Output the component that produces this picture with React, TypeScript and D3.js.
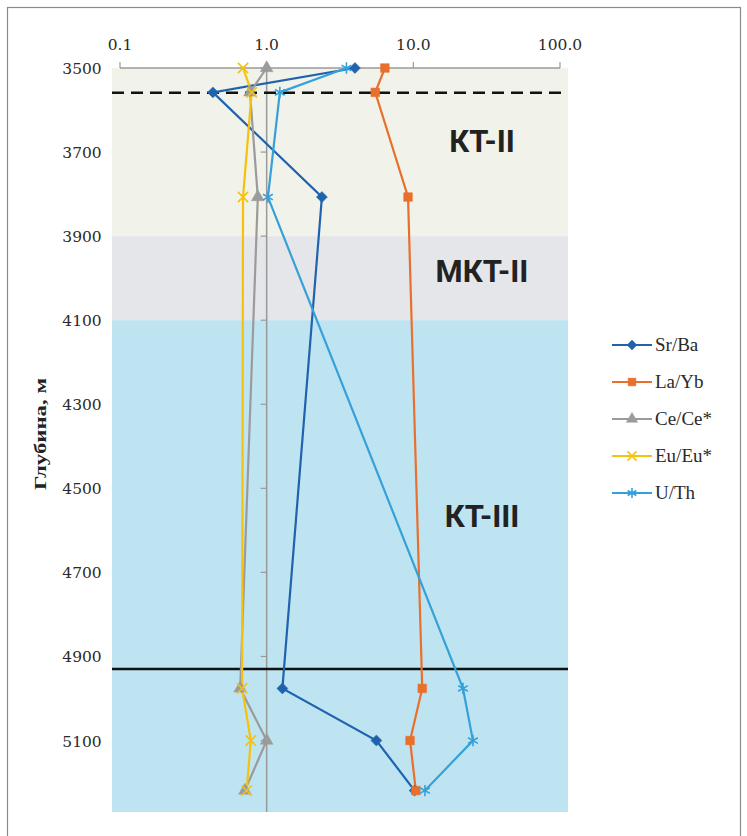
import React, { useRef, useEffect } from 'react';
import * as d3 from 'd3';

const depths = [3500, 3558, 3807, 4976, 5100, 5219];

const seriesNames = ['Sr/Ba', 'La/Yb', 'Ce/Ce*', 'Eu/Eu*', 'U/Th'];
const srBa = [4.0, 0.43, 2.38, 1.28, 5.6, 10.2];
const laYb = [6.4, 5.5, 9.2, 11.5, 9.5, 10.4];
const ceCe = [1.0, 0.77, 0.87, 0.66, 1.0, 0.71];
const euEu = [0.69, 0.79, 0.69, 0.68, 0.78, 0.73];
const uTh = [3.5, 1.23, 1.02, 21.8, 25.5, 12.0];

const xTicks = [0.1, 1, 10, 100];
const yTicks = [3500, 3700, 3900, 4100, 4300, 4500, 4700, 4900, 5100];

const zones = [
    { name: 'КТ-II', from: 3500, to: 3900, color: '#f1f2ea', labelDepth: 3700 },
    { name: 'МКТ-II', from: 3900, to: 4100, color: '#e5e6ea', labelDepth: 4010 },
    { name: 'КТ-III', from: 4100, to: 5270, color: '#bee4f2', labelDepth: 4592 },
];
const dashedDepth = 3559;
const solidDepth = 4930;

const colors = ['#1f63ae', '#e8702c', '#9b9b9b', '#f4c20d', '#35a1d8'];

const App: React.FC = () => {
    const svgRef = useRef<SVGSVGElement | null>(null);
    const width = 747;
    const height = 836;

    useEffect(() => {
        const svg = d3.select(svgRef.current);
        svg.selectAll('*').remove();

        const x = d3.scaleLog().domain([0.1, 100]).range([120, 560]);
        const y = d3.scaleLinear().domain([3500, 5270]).range([68, 812]);
        const left = x.range()[0] - 8;
        const right = x.range()[1] + 8;

        // frame
        svg.append('rect')
            .attr('x', 7.5).attr('y', 7.5)
            .attr('width', 733).attr('height', 840)
            .attr('fill', 'white')
            .attr('stroke', '#8a8a8a')
            .attr('stroke-width', 1.2);

        // zone bands
        zones.forEach(z => {
            svg.append('rect')
                .attr('x', left)
                .attr('y', y(z.from))
                .attr('width', right - left)
                .attr('height', y(z.to) - y(z.from))
                .attr('fill', z.color);
        });

        // top axis
        const top = svg.append('g').attr('transform', `translate(0,${y(3500)})`);
        top.append('line')
            .attr('x1', x(0.1)).attr('x2', x(100))
            .attr('stroke', '#9a9a9a').attr('stroke-width', 1.5);
        xTicks.forEach(t => {
            top.append('line')
                .attr('x1', x(t)).attr('x2', x(t))
                .attr('y1', 0).attr('y2', -6)
                .attr('stroke', '#9a9a9a').attr('stroke-width', 1.2);
            top.append('text')
                .attr('x', x(t)).attr('y', -18)
                .attr('text-anchor', 'middle')
                .style('font-family', 'DejaVu Serif')
                .style('font-size', '15.5px')
                .style('fill', '#2a2a2a')
                .text(t.toFixed(1));
        });

        // vertical axis at 1.0
        svg.append('line')
            .attr('x1', x(1)).attr('x2', x(1))
            .attr('y1', y(3500)).attr('y2', y(5270))
            .attr('stroke', '#999').attr('stroke-width', 1.5);
        yTicks.forEach(t => {
            svg.append('line')
                .attr('x1', x(1) - 6).attr('x2', x(1))
                .attr('y1', y(t)).attr('y2', y(t))
                .attr('stroke', '#999').attr('stroke-width', 1.2);
            svg.append('text')
                .attr('x', 82).attr('y', y(t) + 6)
                .attr('text-anchor', 'middle')
                .style('font-family', 'DejaVu Serif')
                .style('font-size', '15.5px')
                .style('fill', '#2a2a2a')
                .text(t);
        });

        svg.append('text')
            .attr('transform', 'translate(46,434) rotate(-90)')
            .attr('text-anchor', 'middle')
            .attr('textLength', 112)
            .attr('lengthAdjust', 'spacingAndGlyphs')
            .style('font-family', 'Liberation Serif')
            .style('font-weight', 'bold')
            .style('font-size', '17px')
            .style('fill', '#222')
            .text('Глубина, м');

        // zone labels
        zones.forEach(z => {
            svg.append('text')
                .attr('x', 482)
                .attr('y', y(z.labelDepth))
                .attr('text-anchor', 'middle')
                .style('font-family', 'Roboto')
                .style('font-weight', 'bold')
                .style('font-size', '31px')
                .style('fill', '#222')
                .text(z.name);
        });

        // boundary lines
        svg.append('line')
            .attr('x1', left).attr('x2', right)
            .attr('y1', y(dashedDepth)).attr('y2', y(dashedDepth))
            .attr('stroke', '#111').attr('stroke-width', 2.5)
            .attr('stroke-dasharray', '12,7');
        svg.append('line')
            .attr('x1', left).attr('x2', right)
            .attr('y1', y(solidDepth)).attr('y2', y(solidDepth))
            .attr('stroke', '#111').attr('stroke-width', 2.5);

        const allSeries = [srBa, laYb, ceCe, euEu, uTh];
        const symbols = [
            d3.symbolSquare,
            d3.symbolSquare,
            d3.symbolTriangle,
            (d3 as any).symbolTimes || d3.symbolCross,
            (d3 as any).symbolAsterisk || d3.symbolStar,
        ];
        const symbolSizes = [60, 75, 70, 70, 90];
        const rotations = [45, 0, 0, 0, 0];
        const stroked = [false, false, false, true, true];

        const line = d3.line<number>()
            .x(d => x(d))
            .y((_, i) => y(depths[i]));

        allSeries.forEach((vals, si) => {
            svg.append('path')
                .datum(vals)
                .attr('d', line)
                .attr('fill', 'none')
                .attr('stroke', colors[si])
                .attr('stroke-width', 2.2);
        });

        allSeries.forEach((vals, si) => {
            const sym = d3.symbol().type(symbols[si]).size(symbolSizes[si]);
            vals.forEach((v, i) => {
                svg.append('path')
                    .attr('d', sym() as string)
                    .attr('transform', `translate(${x(v)},${y(depths[i])}) rotate(${rotations[si]})`)
                    .attr('fill', stroked[si] ? 'none' : colors[si])
                    .attr('stroke', colors[si])
                    .attr('stroke-width', stroked[si] ? 1.6 : 0.5);
            });
        });

        // legend
        const legend = svg.append('g').attr('transform', 'translate(612,345)');
        seriesNames.forEach((name, i) => {
            const g = legend.append('g').attr('transform', `translate(0,${i * 37})`);
            g.append('line')
                .attr('x1', 0).attr('x2', 40)
                .attr('stroke', colors[i]).attr('stroke-width', 2.2);
            const sym = d3.symbol().type(symbols[i]).size(symbolSizes[i] * 0.8);
            g.append('path')
                .attr('d', sym() as string)
                .attr('transform', `translate(20,0) rotate(${rotations[i]})`)
                .attr('fill', stroked[i] ? 'none' : colors[i])
                .attr('stroke', colors[i])
                .attr('stroke-width', stroked[i] ? 1.6 : 0.5);
            g.append('text')
                .attr('x', 43).attr('y', 6)
                .style('font-family', 'Liberation Serif')
                .style('font-size', '19px')
                .style('fill', '#2a2a2a')
                .text(name);
        });
    }, []);

    return (
        <div style={{ position: 'absolute', left: 0, top: 0 }}>
            <svg ref={svgRef} width={width} height={height} style={{ display: 'block' }} />
        </div>
    );
};

export default App;
